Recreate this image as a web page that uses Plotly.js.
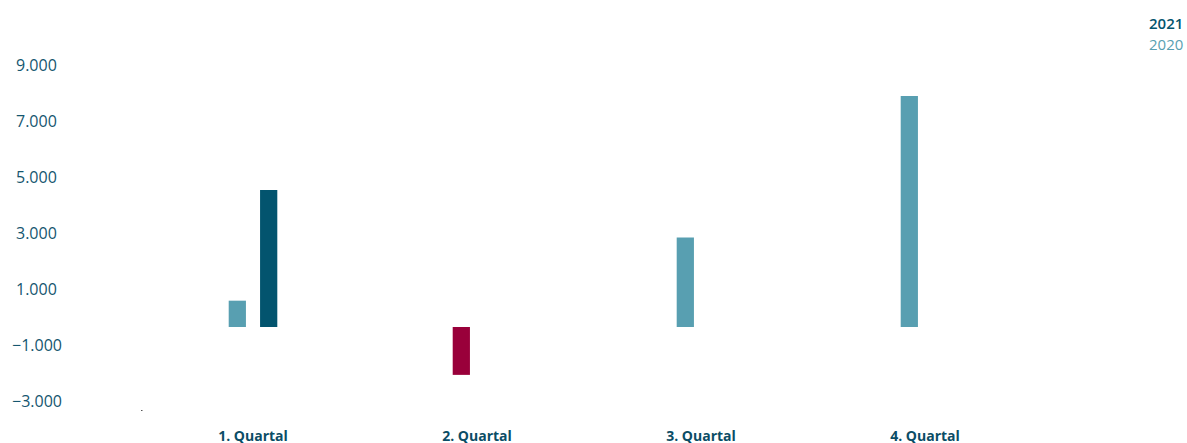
<!DOCTYPE html>
<html>
<head>
<meta charset="utf-8">
<script src="https://cdn.plot.ly/plotly-3.0.1.min.js"></script>
<style>html,body{margin:0;padding:0;background:#fff;}#chart{width:1187px;height:443px;}</style>
</head>
<body>
<div id="chart"></div>
<script>
const categories = ["1. Quartal", "2. Quartal", "3. Quartal", "4. Quartal"];
const series2020 = [940, -1710, 3200, 8250];
const series2021 = [4890, null, null, null];
const yTickValues = [9000, 7000, 5000, 3000, 1000, -1000, -3000];
const yTickLabels = ["9.000", "7.000", "5.000", "3.000", "1.000", "\u22121.000", "\u22123.000"];
const legendLabels = ["2021", "2020"];

const C_DARK = "#03546e";
const C_LIGHT = "#589fb1";
const C_NEG = "#99003a";
const C_TEXT = "#15566f";

const traces = [
  {
    type: "bar", name: "2020", x: categories, y: series2020,
    marker: {color: series2020.map(v => (v !== null && v < 0) ? C_NEG : C_LIGHT), line: {width: 0}},
    hoverinfo: "none"
  },
  {
    type: "bar", name: "2021", x: categories, y: series2021,
    marker: {color: C_DARK, line: {width: 0}},
    hoverinfo: "none"
  }
];

const annotations = yTickValues.map((v, i) => ({
  xref: "paper", yref: "y", x: (36.5 - 141) / 896, y: v,
  xanchor: "center", yanchor: "middle", yshift: 10,
  text: yTickLabels[i], showarrow: false,
  font: {family: "Open Sans", size: 16, color: C_TEXT}
}));
annotations.push({
  xref: "paper", yref: "paper", x: (1185 - 141) / 896, y: 1 + 52.5 / 337,
  xanchor: "right", yanchor: "middle", text: legendLabels[0], showarrow: false,
  font: {family: "Open Sans", size: 15, color: C_DARK, weight: 600}
});
annotations.push({
  xref: "paper", yref: "paper", x: (1185 - 141) / 896, y: 1 + 31.5 / 337,
  xanchor: "right", yanchor: "middle", text: legendLabels[1], showarrow: false,
  font: {family: "Open Sans", size: 15, color: C_LIGHT}
});

const layout = {
  width: 1187, height: 443,
  margin: {l: 141, r: 150, t: 74.5, b: 31.5, pad: 0},
  paper_bgcolor: "#fff", plot_bgcolor: "#fff",
  showlegend: false,
  barmode: "group", bargap: 0.72, bargroupgap: 0.45,
  font: {family: "Open Sans", color: C_TEXT},
  xaxis: {
    type: "category", range: [-0.5, 3.5], showgrid: false, zeroline: false, showline: false,
    ticks: "outside", ticklen: 0, tickcolor: "rgba(0,0,0,0)", ticklabelstandoff: 12,
    tickfont: {family: "Open Sans", size: 14, color: "#0b4d66", weight: 700}
  },
  yaxis: {
    range: [-3000, 9000], showgrid: false, zeroline: false, showline: false,
    showticklabels: false, ticks: ""
  },
  annotations: annotations,
  shapes: [{
    type: "rect", xref: "paper", yref: "y",
    xsizemode: "pixel", xanchor: 0, x0: 0, x1: 1.5,
    ysizemode: "pixel", yanchor: -3000, y0: -0.5, y1: 1,
    fillcolor: "#555", line: {width: 0}
  }]
};

Plotly.newPlot("chart", traces, layout, {staticPlot: true, displayModeBar: false});
</script>
</body>
</html>
